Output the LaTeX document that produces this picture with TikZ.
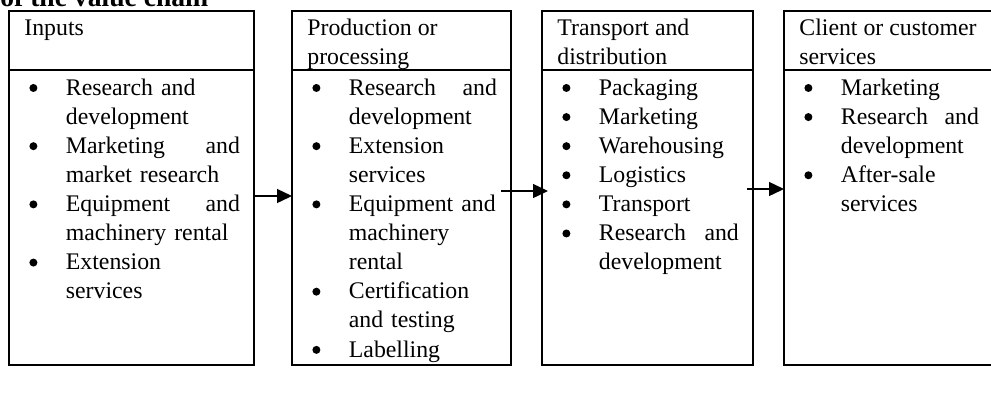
\documentclass[tikz,border=0pt]{standalone}
\usepackage{fontspec}
\setmainfont{Liberation Serif}
\usetikzlibrary{arrows.meta}
\setlength{\parindent}{0pt}
\newcommand{\vcb}{\leavevmode\llap{\tikz[baseline=0pt]\fill (0pt,3.6pt) circle (2pt);\hspace{14.25pt}}\strut}
\begin{document}
\begin{tikzpicture}[x=0.5pt,y=-0.5pt,
    hdbox/.style={draw,line width=1pt,anchor=north west,inner sep=0pt,outer sep=0pt,minimum height=29.5pt},
    bdbox/.style={draw,line width=1pt,anchor=north west,inner sep=0pt,outer sep=0pt,minimum height=147.5pt},
    vctext/.style={anchor=north west,inner sep=0pt,align=left,
      font=\fontsize{11.9pt}{14.55pt}\selectfont},
    arr/.style={-{Triangle[length=7.5pt,width=7pt]},line width=0.7pt}]
    \useasboundingbox (0,0) rectangle (991,414);
    \clip (0,0) rectangle (991,414);
    % Title
    \node[anchor=base west,inner sep=0pt,font=\bfseries\fontsize{13.8pt}{16pt}\selectfont] (title) at (0,6) {of the value chain};
    % Boxes
    \node[hdbox,minimum width=122.5pt] (inH) at (9,11) {};
    \node[bdbox,minimum width=122.5pt] (inB) at (inH.south west) {};
    \node[hdbox,minimum width=109.5pt] (prodH) at (292,11) {};
    \node[bdbox,minimum width=109.5pt] (prodB) at (prodH.south west) {};
    \node[hdbox,minimum width=105.5pt] (transH) at (542,11) {};
    \node[bdbox,minimum width=105.5pt] (transB) at (transH.south west) {};
    \node[hdbox,minimum width=115pt] (custH) at (784,11) {};
    \node[bdbox,minimum width=115pt] (custB) at (custH.south west) {};
    % Headers
    \node[vctext] (inHt) at ([xshift=7.5pt,yshift=-1.8pt]inH.north west) {\strut Inputs};
    \node[vctext] (prodHt) at ([xshift=7.5pt,yshift=-1.8pt]prodH.north west) {\strut Production or\\processing};
    \node[vctext] (transHt) at ([xshift=7.5pt,yshift=-1.8pt]transH.north west) {\strut Transport and\\distribution};
    \node[vctext] (custHt) at ([xshift=7.5pt,yshift=-1.8pt]custH.north west) {\strut Client or customer\\services};
    % Lists
    \node[vctext,text width=87pt] (inBt) at ([xshift=28.25pt,yshift=-2.2pt]inB.north west)
      {\vcb Research and\\ development\\ \vcb Marketing\hfill and\\ market research\\
       \vcb Equipment\hfill and\\ machinery rental\\ \vcb Extension\\ services};
    \node[vctext,text width=74pt] (prodBt) at ([xshift=28.25pt,yshift=-2.2pt]prodB.north west)
      {\vcb Research\hfill and\\ development\\ \vcb Extension\\ services\\
       \vcb Equipment and\\ machinery\\ rental\\ \vcb Certification\\ and testing\\ \vcb Labelling};
    \node[vctext,text width=70pt] (transBt) at ([xshift=28.25pt,yshift=-2.2pt]transB.north west)
      {\vcb Packaging\\ \vcb Marketing\\ \vcb Warehousing\\ \vcb Logistics\\
       \vcb Transport\\ \vcb Research\hfill and\\ development};
    \node[vctext,text width=69pt] (custBt) at ([xshift=28.25pt,yshift=-2.2pt]custB.north west)
      {\vcb Marketing\\ \vcb Research\hfill and\\ development\\ \vcb After-sale\\ services};
    % Arrows
    \draw[arr] ([yshift=10.75pt]inB.east) -- ([yshift=10.75pt]prodB.west);
    \draw[arr] ([xshift=-5pt,yshift=13.25pt]prodB.east) -- ([xshift=3pt,yshift=13.25pt]transB.west);
    \draw[arr] ([xshift=-3pt,yshift=14.25pt]transB.east) -- ([yshift=14.25pt]custB.west);
\end{tikzpicture}
\end{document}
